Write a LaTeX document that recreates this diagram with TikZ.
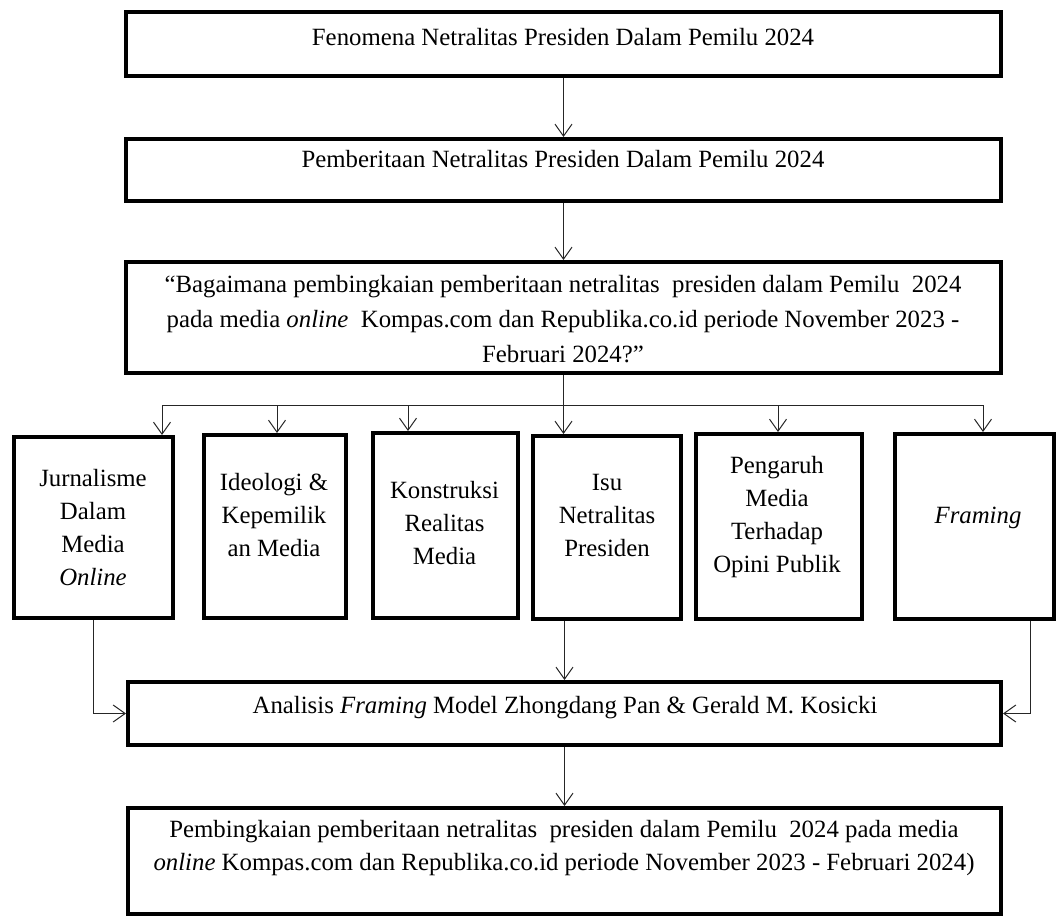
\documentclass[tikz,border=0pt]{standalone}
\usepackage{fontspec}
\setmainfont{Liberation Serif}
\usetikzlibrary{arrows.meta,calc}
\begin{document}
\begin{tikzpicture}[x=1pt,y=-1pt,
  box/.style={draw=black,line width=4pt,inner sep=0pt,fill=white},
  txt/.style={inner sep=0pt,font=\fontsize{24.8}{33}\selectfont,align=center},
  txtb/.style={inner sep=0pt,font=\fontsize{24.8}{35}\selectfont,align=center},
  arr/.style={draw=black!85,line width=1pt,-{Straight Barb[length=12pt,width=17pt,line width=1pt]}},
  ln/.style={draw=black!85,line width=1pt}]
\useasboundingbox (0,0) rectangle (1058,919);
% boxes
\node[box,minimum width=875pt,minimum height=64pt] (b1) at (563.5,44) {};
\node[box,minimum width=875pt,minimum height=62pt] (b2) at (563.5,170) {};
\node[box,minimum width=875pt,minimum height=111pt] (b3) at (563.5,317.5) {};
\node[box,minimum width=159pt,minimum height=181pt] (jur) at (93.5,527.5) {};
\node[box,minimum width=142pt,minimum height=183pt] (ide) at (275,526.5) {};
\node[box,minimum width=145pt,minimum height=185pt] (kon) at (445.5,525.5) {};
\node[box,minimum width=148pt,minimum height=183pt] (isu) at (607,527.5) {};
\node[box,minimum width=166pt,minimum height=185pt] (pen) at (779,526.5) {};
\node[box,minimum width=159pt,minimum height=185pt] (fra) at (974.5,526.5) {};
\node[box,minimum width=873pt,minimum height=63pt] (ana) at (564.5,713.5) {};
\node[box,minimum width=873pt,minimum height=106pt] (fin) at (564.5,861) {};
% texts
\node[txt,anchor=base] (t1) at (563,45) {Fenomena Netralitas Presiden Dalam Pemilu 2024};
\node[txt,anchor=base] (t2) at (563,167) {Pemberitaan Netralitas Presiden Dalam Pemilu 2024};
\node[txtb,anchor=north] (t3) at (563,267.5) {\strut“Bagaimana pembingkaian pemberitaan netralitas\ \ presiden dalam Pemilu\ \ 2024\\ pada media \textit{online}\ \ Kompas.com dan Republika.co.id periode November 2023 -\\ Februari 2024?”};
\node[txt,anchor=north] (tj) at (93,462.9) {\strut Jurnalisme\\ Dalam\\ Media\\ \textit{Online}};
\node[txt,anchor=north] (ti) at (274,466.9) {\strut Ideologi \&\\ Kepemilik\\ an Media};
\node[txt,anchor=north] (tk) at (444.5,474.9) {\strut Konstruksi\\ Realitas\\ Media};
\node[txt,anchor=north] (tisu) at (607,466.9) {\strut Isu\\ Netralitas\\ Presiden};
\node[txt,anchor=north] (tp) at (777,449.9) {\strut Pengaruh\\ Media\\ Terhadap\\ Opini Publik};
\node[txt,anchor=base] (tf) at (978,523) {\textit{Framing}};
\node[txt,anchor=base] (ta) at (565,713) {Analisis \textit{Framing} Model Zhongdang Pan \& Gerald M. Kosicki};
\node[txt,anchor=north] (tfin) at (564,813.9) {\strut Pembingkaian pemberitaan netralitas\ \ presiden dalam Pemilu\ \ 2024 pada media\\ \textit{online} Kompas.com dan Republika.co.id periode November 2023 - Februari 2024)};
% connectors
\draw[arr] (b1.south) -- (b2.north);
\draw[arr] (b2.south) -- (b3.north);
\coordinate (aJ) at (162,405);
\coordinate (aI) at (277,405);
\coordinate (aK) at (408,405);
\coordinate (aS) at (563.5,405);
\coordinate (aP) at (778,405);
\coordinate (aF) at (983,405);
\draw[ln] (b3.south) -- (aS);
\draw[ln] (aJ) -- (aF);
\draw[arr] (aJ) -- (aJ |- jur.north);
\draw[arr] (aI) -- (aI |- ide.north);
\draw[arr] (aK) -- (aK |- kon.north);
\draw[arr] (aS) -- (aS |- isu.north);
\draw[arr] (aP) -- (aP |- pen.north);
\draw[arr] (aF) -- (aF |- fra.north);
\draw[arr] (jur.south) |- (ana.west);
\coordinate (fo) at ($(fra.south)+(55.5,0)$);
\draw[arr] (fo) |- (ana.east);
\draw[arr] (isu.south -| ana.north) -- (ana.north);
\draw[arr] (ana.south) -- (fin.north);
\end{tikzpicture}
\end{document}
